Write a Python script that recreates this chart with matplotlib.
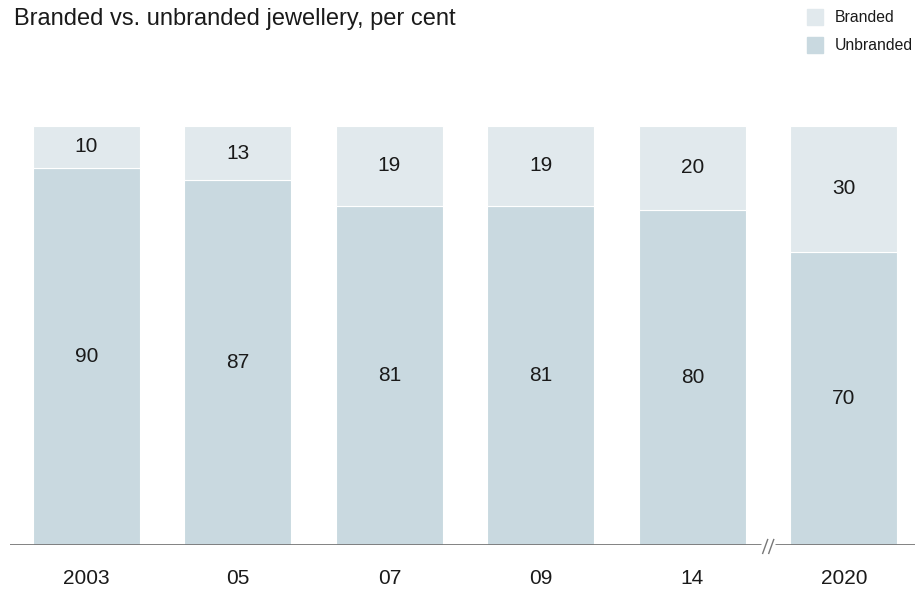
import matplotlib.pyplot as plt
import numpy as np

plt.rcParams['font.family'] = ['Liberation Sans', 'DejaVu Sans']

years = ['2003', '05', '07', '09', '14', '2020']
unbranded = [90, 87, 81, 81, 80, 70]
branded = [10, 13, 19, 19, 20, 30]

c_unb = '#c9d9e0'
c_br = '#e1e9ed'
txt = '#1a1a1a'

fig = plt.figure(figsize=(9.15, 5.89), dpi=100)
ax = fig.add_axes([0.0109, 0.0747, 0.9891, 0.7114])

x = np.arange(len(years))
w = 0.706
ax.bar(x, unbranded, w, color=c_unb, edgecolor='white', linewidth=0.8, label='Unbranded')
ax.bar(x, branded, w, bottom=unbranded, color=c_br, edgecolor='white', linewidth=0.8, label='Branded')

for i in range(len(years)):
    ax.text(x[i], unbranded[i] / 2, str(unbranded[i]), ha='center', va='center', fontsize=15, color=txt)
    ax.text(x[i], unbranded[i] + branded[i] / 2, str(branded[i]), ha='center', va='center', fontsize=15, color=txt)
    ax.text(x[i], -9.3, years[i], ha='center', va='baseline', fontsize=15, color=txt)

ax.set_xlim(-0.505, 5.469)
ax.set_ylim(0, 100)
ax.axis('off')

# baseline with break between 14 and 2020
ax.axhline(0, color='#777777', linewidth=2.0, zorder=5)
ax.plot([4.454, 4.546], [0, 0], color='white', linewidth=3.5, zorder=6, solid_capstyle='butt')
for dx in (-0.02, 0.02):
    ax.plot([4.5 + dx - 0.0165, 4.5 + dx + 0.0165], [-2.0, 1.3], color='#777777',
            linewidth=1.0, zorder=7, clip_on=False)

fig.text(14 / 915, 1 - 19 / 589, 'Branded vs. unbranded jewellery, per cent', fontsize=17, color=txt, va='center')

# legend
for j, (lab, col) in enumerate([('Branded', c_br), ('Unbranded', c_unb)]):
    yy = 589 - 17 - j * 28
    fig.patches.append(plt.Rectangle((807 / 915, (yy - 8) / 589), 16 / 915, 16 / 589,
                                     transform=fig.transFigure, color=col))
    fig.text(835 / 915, yy / 589, lab, fontsize=11.3, color=txt, va='center')

fig.savefig('out.png', dpi=100)
